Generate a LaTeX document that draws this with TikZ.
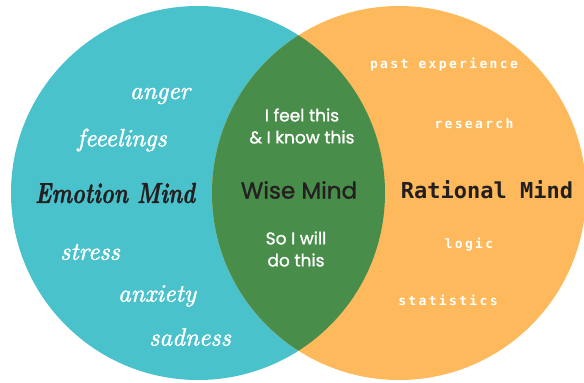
\documentclass[tikz,border=0pt]{standalone}
\usepackage{fontspec}
\usetikzlibrary{positioning}
\newfontfamily\brushfont[FakeBold=1.6]{lmroman10-italic.otf}
\newfontfamily\brushbold[FakeBold=1.2]{lmroman10-bolditalic.otf}
\newfontfamily\wisefont[FakeBold=1.2]{Poppins}
\newfontfamily\ratfont{DejaVu Sans Mono}
\newfontfamily\ratwide[LetterSpace=18]{DejaVu Sans Mono}
\definecolor{emoteal}{RGB}{74,194,204}
\definecolor{ratorange}{RGB}{253,185,92}
\definecolor{wisegreen}{RGB}{73,141,75}
\definecolor{ink}{RGB}{35,31,32}
\tikzstyle{emo}=[text=white,font=\brushfont\fontsize{25}{25}\selectfont]
\tikzstyle{rat}=[text=white,font=\ratwide\bfseries\fontsize{13}{13}\selectfont]
\tikzstyle{wise}=[text=white,align=center,font=\wisefont\fontsize{17}{22}\selectfont]

\begin{document}
\begin{tikzpicture}[x=1pt,y=-1pt,%
  every node/.style={inner sep=0pt}]
\useasboundingbox (0,0) rectangle (584,383);
% the three minds
\fill[emoteal] (198,193) circle[radius=187pt];
\fill[ratorange] (399,193) circle[radius=187pt];
\begin{scope}
  \clip (198,193) circle[radius=187pt];
  \fill[wisegreen] (399,193) circle[radius=187pt];
\end{scope}
% emotion side
\node[emo](anger)at(160,96){anger};
\node[emo](feel)at(122,140){feeelings};
\node[text=ink,font=\brushbold\fontsize{29}{29}\selectfont](emotion)at(115,193){\scalebox{0.75}[1]{Emotion Mind}};
\node[emo](stress)at(90,252){stress};
\node[emo](anx)at(157,296){anxiety};
\node[emo](sad)at(190,337){sadness};
% wise mind
\node[wise](know)at(302,126){I feel this\\\& I know this};
\node[text=ink,font=\wisefont\fontsize{23}{23}\selectfont](wise)at(299,190){Wise Mind};
\node[wise](will)at(296,249){So I will\\do this};
% rational side
\node[rat](past)at(444,65){past experience};
\node[rat](res)at(474,124){research};
\node[text=ink,font=\ratfont\bfseries\fontsize{22}{22}\selectfont](rational)at(487,190){Rational Mind};
\node[rat](logic)at(469,245){logic};
\node[rat](stats)at(448,300){statistics};
\end{tikzpicture}
\end{document}
